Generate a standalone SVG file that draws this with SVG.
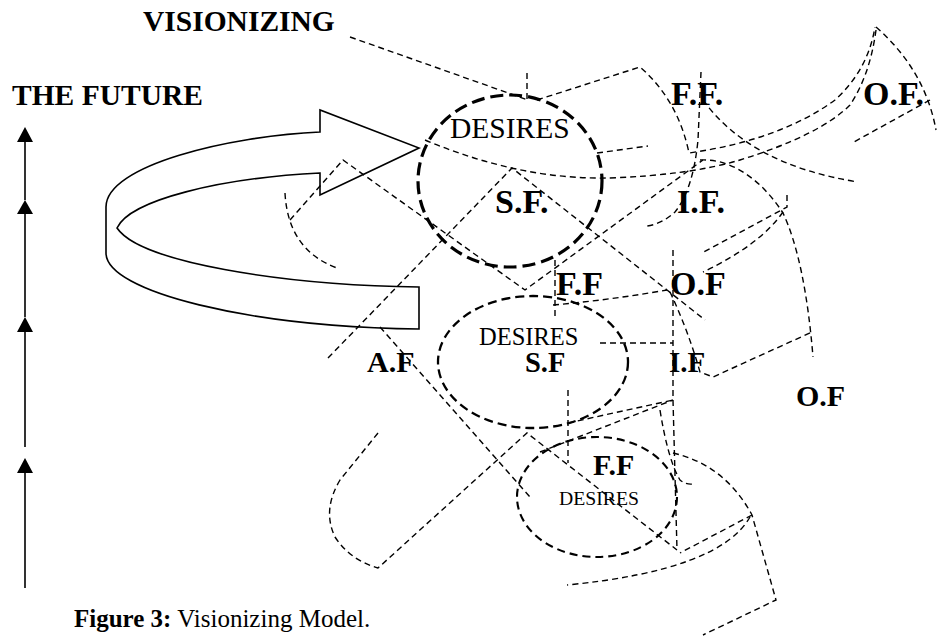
<svg xmlns="http://www.w3.org/2000/svg" width="937" height="640" viewBox="0 0 937 640">
<style>
.t{fill:none;stroke:#000;stroke-width:1.4;stroke-dasharray:6 4}
.e1{fill:none;stroke:#000;stroke-width:3.2;stroke-dasharray:13 6}
.e2{fill:none;stroke:#000;stroke-width:2.3;stroke-dasharray:9 5}
.e3{fill:none;stroke:#000;stroke-width:2.1;stroke-dasharray:8 5}
.s{fill:none;stroke:#000;stroke-width:1.6}
.b{font-family:"Liberation Serif","Times New Roman",serif;font-weight:bold;fill:#000}
.r{font-family:"Liberation Serif","Times New Roman",serif;fill:#000}
</style>
<rect width="937" height="640" fill="#fff"/>
<g id="titles">
<text class="b" x="143" y="31" font-size="29.5">VISIONIZING</text>
<text class="b" x="12" y="105" font-size="29.5">THE FUTURE</text>
</g>
<g id="timeline">
<path class="s" d="M25,588 L25,472 M25,447 L25,331 M25,317 L25,213 M25,200 L25,141"/>
<polygon points="25,458 17,473 33,473"/>
<polygon points="25,317 17,332 33,332"/>
<polygon points="25,200 17,214 33,214"/>
<polygon points="25,127 17,142 33,142"/>
</g>
<g id="curved-arrow">
<path class="s" d="M320,132 L320,110 L419,148 L320,195 L320,173 C220,178 130,200 117,228 C140,262 280,285 419,287 L419,329 C250,327 106,292 106,253 L106,207 C106,165 230,136 320,132 Z"/>
</g>
<g id="connectors">
<path class="t" d="M350,37 L528,100"/>
<path class="t" d="M527,73 L527,103"/>
<path class="t" d="M537,100 L640,67 Q678,100 689,153 Q780,140 835,100 Q868,70 875,27"/>
<path class="t" d="M701,72 L698,140 Q693,190 675,212 Q662,224 647,226"/>
<path class="t" d="M597,153 L648,146"/>
<path class="t" d="M425,140 Q520,180 610,178 Q690,175 740,160 Q820,135 850,105 Q870,75 876,30"/>
<path class="t" d="M703,100 Q750,165 858,182"/>
<path class="t" d="M876,27 Q925,70 936,130"/>
<path class="t" d="M930,100 L852,143"/>
<path class="t" d="M285,193 Q288,250 337,268"/>
<path class="t" d="M290,220 L343,160 L525,290 L703,160"/>
<path class="t" d="M328,358 L512,168 L667,290 L705,320"/>
<path class="t" d="M553,305 Q610,300 667,290"/>
<path class="t" d="M555,260 L555,320"/>
<path class="t" d="M700,160 C735,158 765,185 783,213 Q805,260 813,357"/>
<path class="t" d="M670,292 Q688,330 700,372 L713,377 L812,332"/>
<path class="t" d="M787,195 L787,207 L702,253"/>
<path class="t" d="M783,212 Q760,245 703,272"/>
<path class="t" d="M673,250 L673,400 L677,550"/>
<path class="t" d="M600,343 L673,343"/>
<path class="t" d="M568,390 L568,463"/>
<path class="t" d="M568,423 L673,400"/>
<path class="t" d="M540,452 L673,400"/>
<path class="t" d="M378,433 L340,480 Q322,510 335,537 Q350,560 378,568 L527,433 L677,550"/>
<path class="t" d="M380,327 L530,497"/>
<path class="t" d="M660,410 Q668,460 680,480 Q686,485 693,484"/>
<path class="t" d="M673,453 Q725,465 752,515 L776,600 L703,635"/>
<path class="t" d="M752,515 L680,553"/>
<path class="t" d="M750,517 Q720,570 567,585"/>
</g>
<g id="desires-top">
<ellipse class="e1" cx="510" cy="181" rx="92" ry="86"/>
<text class="r" x="450" y="138" font-size="29.5">DESIRES</text>
</g>
<g id="desires-middle">
<ellipse class="e2" cx="533" cy="362" rx="95" ry="66"/>
<text class="r" x="479" y="345" font-size="24.5">DESIRES</text>
</g>
<g id="desires-bottom">
<ellipse class="e3" cx="597" cy="497" rx="80" ry="60"/>
<text class="r" x="559" y="505" font-size="19.7">DESIRES</text>
</g>
<g id="labels">
<text class="b" x="671" y="105" font-size="34">F.F.</text>
<text class="b" x="863" y="105" font-size="34">O.F.</text>
<text class="b" x="495" y="213" font-size="34">S.F.</text>
<text class="b" x="677" y="213" font-size="34">I.F.</text>
<text class="b" x="556" y="295" font-size="34">F.F</text>
<text class="b" x="670" y="295" font-size="34">O.F</text>
<text class="b" x="525" y="372" font-size="28.5">S.F</text>
<text class="b" x="669" y="372" font-size="29">I.F</text>
<text class="b" x="367" y="372" font-size="30">A.F</text>
<text class="b" x="796" y="406" font-size="30">O.F</text>
<text class="b" x="593" y="475" font-size="30">F.F</text>
</g>
<g id="caption">
<text x="74" y="627" font-size="25" class="r"><tspan font-weight="bold">Figure 3:</tspan> Visionizing Model.</text>
</g>
</svg>
